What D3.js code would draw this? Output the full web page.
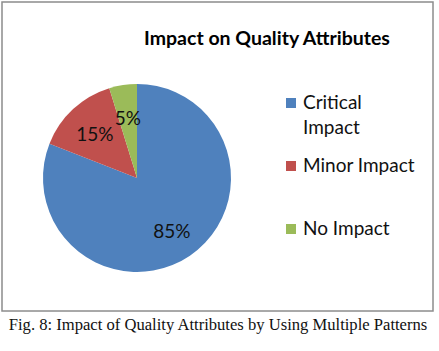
<!DOCTYPE html>
<html>
<head>
<meta charset="utf-8">
<script src="https://cdn.jsdelivr.net/npm/d3@7"></script>
<style>
  body { margin: 0; background: #ffffff; }
  svg { display: block; }
</style>
</head>
<body>
<div id="container"></div>
<script>
/* DATA */
const categories = ["Critical Impact", "Minor Impact", "No Impact"];
const values = [85, 15, 5];
const labels = ["85%", "15%", "5%"];
const legendLines = [["Critical", "Impact"], ["Minor Impact"], ["No Impact"]];
const colors = ["#4f81bd", "#c0504d", "#9bbb59"];

/* CONSTANTS AND GLOBALS */
const width = 439,
  height = 351,
  cx = 137, cy = 178, radius = 94;

const svg = d3.select("#container")
  .append("svg")
  .attr("width", width)
  .attr("height", height);

// chart frame
svg.append("rect")
  .attr("x", 2).attr("y", 2)
  .attr("width", 431).attr("height", 309)
  .attr("fill", "#ffffff")
  .attr("stroke", "#8c8c8c")
  .attr("stroke-width", 1.5);

// title
svg.append("text")
  .attr("x", 267).attr("y", 45)
  .attr("text-anchor", "middle")
  .style("font-family", "Lato, 'Open Sans', sans-serif")
  .style("font-weight", "bold")
  .style("font-size", "19.5px")
  .text("Impact on Quality Attributes");

/* PIE */
const color = d3.scaleOrdinal().domain(categories).range(colors);

const pie = d3.pie()
  .sort(null)
  .value(d => d.value);

const rows = categories.map((c, i) => ({ category: c, value: values[i], label: labels[i] }));
const arcs = pie(rows);

const arc = d3.arc().innerRadius(0).outerRadius(radius);
const labelArc = d3.arc().innerRadius(radius * 0.66).outerRadius(radius * 0.66);

const g = svg.append("g").attr("transform", `translate(${cx}, ${cy})`);

g.selectAll("path.slice")
  .data(arcs)
  .join("path")
  .attr("class", "slice")
  .attr("d", arc)
  .attr("fill", d => color(d.data.category));

g.selectAll("text.pct")
  .data(arcs)
  .join("text")
  .attr("class", "pct")
  .attr("transform", d => `translate(${labelArc.centroid(d)})`)
  .attr("text-anchor", "middle")
  .attr("dy", "0.45em")
  .style("font-family", "Lato, 'Open Sans', sans-serif")
  .style("font-size", "19px")
  .attr("fill", "#111")
  .text(d => d.data.label);

/* LEGEND */
const legendY = d3.scalePoint().domain(categories).range([109, 235]);

const legend = svg.selectAll("g.legend")
  .data(categories)
  .join("g")
  .attr("class", "legend")
  .attr("transform", d => `translate(286, ${legendY(d)})`);

legend.append("rect")
  .attr("x", 0).attr("y", -11)
  .attr("width", 10).attr("height", 10)
  .attr("fill", d => color(d));

legend.append("text")
  .attr("x", 17)
  .style("font-family", "Lato, 'Open Sans', sans-serif")
  .style("font-size", "19px")
  .attr("fill", "#111")
  .selectAll("tspan")
  .data((d, i) => legendLines[i])
  .join("tspan")
  .attr("x", 17)
  .attr("dy", (d, i) => i === 0 ? 0 : 25)
  .text(d => d);

// caption
svg.append("text")
  .attr("x", 218).attr("y", 330)
  .attr("text-anchor", "middle")
  .style("font-family", "'Liberation Serif', 'Times New Roman', serif")
  .style("font-size", "16.6px")
  .attr("fill", "#111")
  .text("Fig. 8: Impact of Quality Attributes by Using Multiple Patterns");
</script>
</body>
</html>
